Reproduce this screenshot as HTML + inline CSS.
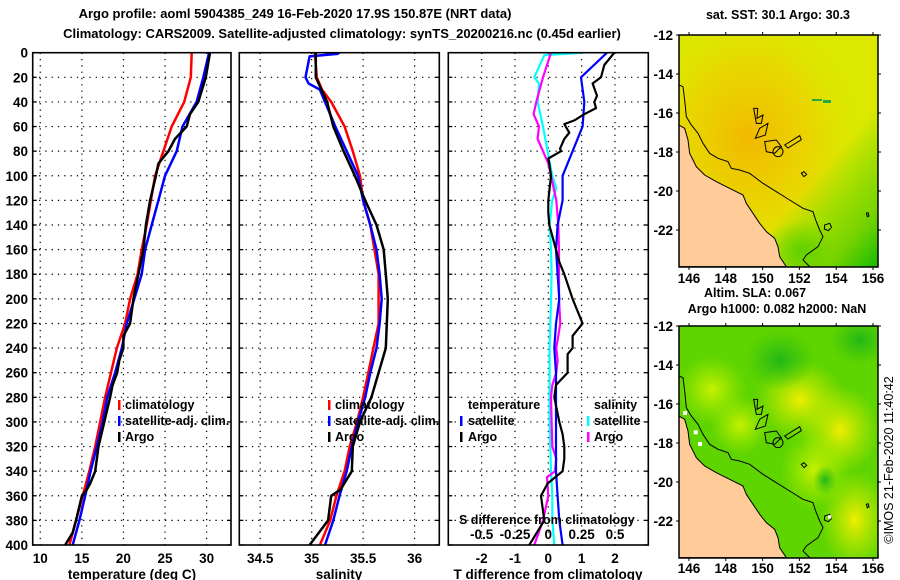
<!DOCTYPE html>
<html><head><meta charset="utf-8"><style>
html,body{margin:0;padding:0;background:#fff;}
svg{display:block;font-family:"Liberation Sans",sans-serif;font-weight:bold;}
</style></head><body>
<svg id="fig" width="900" height="580" viewBox="0 0 900 580">
<defs>
<radialGradient id="gOr" cx="0.35" cy="0.45" r="0.55"><stop offset="0" stop-color="#f2b800"/><stop offset="0.6" stop-color="#f0cc00" stop-opacity="0.6"/><stop offset="1" stop-color="#e0e000" stop-opacity="0"/></radialGradient>
<linearGradient id="gGr" x1="0.3" y1="0.3" x2="1" y2="1"><stop offset="0.5" stop-color="#22cc00" stop-opacity="0"/><stop offset="0.8" stop-color="#55cc00" stop-opacity="0.7"/><stop offset="1" stop-color="#11bb00" stop-opacity="1"/></linearGradient>
<radialGradient id="gY1" cx="0.5" cy="0.5" r="0.5"><stop offset="0" stop-color="#eeee00"/><stop offset="1" stop-color="#ccee00" stop-opacity="0"/></radialGradient>
<radialGradient id="gY2" cx="0.5" cy="0.5" r="0.5"><stop offset="0" stop-color="#c8f000"/><stop offset="1" stop-color="#aaee00" stop-opacity="0"/></radialGradient>
<radialGradient id="gD" cx="0.5" cy="0.5" r="0.5"><stop offset="0" stop-color="#22b818"/><stop offset="1" stop-color="#33c010" stop-opacity="0"/></radialGradient>
<radialGradient id="gG2" cx="0.5" cy="0.5" r="0.5"><stop offset="0" stop-color="#44cc00" stop-opacity="0.7"/><stop offset="1" stop-color="#44cc00" stop-opacity="0"/></radialGradient>
<clipPath id="cm1"><rect x="679" y="35" width="199" height="232"/></clipPath>
<clipPath id="cm2"><rect x="679" y="326" width="199" height="232"/></clipPath>
<clipPath id="cp1"><rect x="32.7" y="52.7" width="198.3" height="492.3"/></clipPath>
<clipPath id="cp2"><rect x="239.3" y="52.7" width="200" height="492.3"/></clipPath>
<clipPath id="cp3"><rect x="448.3" y="52.7" width="200" height="492.3"/></clipPath>
</defs>
<text x="295" y="18" font-size="13" text-anchor="middle">Argo profile: aoml 5904385_249 16-Feb-2020 17.9S 150.87E (NRT data)</text>
<text x="342" y="38" font-size="13" text-anchor="middle">Climatology: CARS2009. Satellite-adjusted climatology: synTS_20200216.nc (0.45d earlier)</text>
<g id="grid"></g>
<g id="lines"></g>
<g id="frames"></g>
<g id="labels" font-size="13.5"></g>

<g font-size="12.5">
<rect x="118" y="400" width="2.5" height="10" fill="#f00"/><text x="125" y="409">climatology</text>
<rect x="118" y="416" width="2.5" height="10" fill="#00f"/><text x="125" y="425">satellite-adj. clim.</text>
<rect x="118" y="432" width="2.5" height="10" fill="#000"/><text x="125" y="441">Argo</text>
</g>
<g font-size="12.5">
<rect x="328" y="400" width="2.5" height="10" fill="#f00"/><text x="335" y="409">climatology</text>
<rect x="328" y="416" width="2.5" height="10" fill="#00f"/><text x="335" y="425">satellite-adj. clim.</text>
<rect x="328" y="432" width="2.5" height="10" fill="#000"/><text x="335" y="441">Argo</text>
</g>
<g font-size="12.5">
<text x="468" y="409">temperature</text>
<rect x="460" y="416" width="2.5" height="10" fill="#00f"/><text x="468" y="425">satellite</text>
<rect x="460" y="432" width="2.5" height="10" fill="#000"/><text x="468" y="441">Argo</text>
<text x="594" y="409">salinity</text>
<rect x="587" y="416" width="2.5" height="10" fill="#0ff"/><text x="594" y="425">satellite</text>
<rect x="587" y="432" width="2.5" height="10" fill="#f0f"/><text x="594" y="441">Argo</text>
</g>
<text x="459" y="524" font-size="12.5">S difference from climatology</text>

<g clip-path="url(#cm1)">
<rect x="679" y="35" width="199" height="232" fill="#dce800"/>
<rect x="679" y="35" width="199" height="232" fill="url(#gOr)"/>
<rect x="679" y="35" width="199" height="232" fill="url(#gGr)"/>
<ellipse cx="800" cy="250" rx="35" ry="30" fill="url(#gG2)"/>
<rect x="823" y="100" width="8" height="3" fill="#22aa44"/><rect x="812" y="99" width="10" height="2" fill="#22aa44"/>
<g transform="translate(679,35) scale(0.33333) translate(-88,-105)">
<polygon points="88,375 105,385 115,420 120,460 130,480 140,500 150,510 165,525 200,545 230,560 260,575 280,585 290,610 310,640 330,670 350,695 375,715 385,740 390,770 410,800 88,800" fill="#ffcc99" stroke="#000" stroke-width="3"/>
<polyline points="88,255 100,260 105,300 110,350 125,375 145,400 160,430 180,460 205,475 235,485 245,505 270,510 300,520 340,550 380,575 420,600 460,625 490,635 498,660 510,690 520,710 505,740 470,765 460,780 480,800" fill="none" stroke="#000" stroke-width="3"/>
<path d="M312,325 l12,0 l-2,30 l18,-10 l-5,25 l-15,0 z M330,385 l25,-15 l-8,35 l-30,10 z M345,425 l35,-5 l15,20 l-20,20 l-25,-5 z M405,435 l45,-28 l5,12 l-40,25 z M455,520 l8,-5 l8,8 l-8,7 z M525,675 l15,-5 l6,12 l-10,10 l-12,-5 z M650,640 l5,-2 l3,10 l-5,2 z" fill="none" stroke="#000" stroke-width="3"/>
<circle cx="385" cy="455" r="15" fill="none" stroke="#000" stroke-width="3"/>
</g>
</g>
<rect x="679" y="35" width="199" height="232" fill="none" stroke="#000" stroke-width="1.5"/>

<g clip-path="url(#cm2)">
<rect x="679" y="326" width="199" height="232" fill="#5ed400"/>
<ellipse cx="800" cy="400" rx="45" ry="40" fill="url(#gY1)"/>
<ellipse cx="840" cy="430" rx="40" ry="45" fill="url(#gY1)"/>
<ellipse cx="855" cy="520" rx="35" ry="50" fill="url(#gY1)"/>
<ellipse cx="815" cy="470" rx="35" ry="40" fill="url(#gY2)"/>
<ellipse cx="712" cy="390" rx="35" ry="35" fill="url(#gY2)"/>
<ellipse cx="740" cy="425" rx="30" ry="30" fill="url(#gY2)"/>
<ellipse cx="780" cy="360" rx="35" ry="30" fill="url(#gD)"/>
<ellipse cx="860" cy="340" rx="30" ry="25" fill="url(#gD)"/>
<ellipse cx="825" cy="480" rx="12" ry="15" fill="url(#gD)"/>
<g transform="translate(679,326) scale(0.33333) translate(-88,-105)">
<polygon points="88,375 105,385 115,420 120,460 130,480 140,500 150,510 165,525 200,545 230,560 260,575 280,585 290,610 310,640 330,670 350,695 375,715 385,740 390,770 410,800 88,800" fill="#ffcc99" stroke="#000" stroke-width="3"/>
<polyline points="88,255 100,260 105,300 110,350 125,375 145,400 160,430 180,460 205,475 235,485 245,505 270,510 300,520 340,550 380,575 420,600 460,625 490,635 498,660 510,690 520,710 505,740 470,765 460,780 480,800" fill="none" stroke="#000" stroke-width="3"/>
<path d="M312,325 l12,0 l-2,30 l18,-10 l-5,25 l-15,0 z M330,385 l25,-15 l-8,35 l-30,10 z M345,425 l35,-5 l15,20 l-20,20 l-25,-5 z M405,435 l45,-28 l5,12 l-40,25 z M455,520 l8,-5 l8,8 l-8,7 z M525,675 l15,-5 l6,12 l-10,10 l-12,-5 z M650,640 l5,-2 l3,10 l-5,2 z" fill="none" stroke="#000" stroke-width="3"/>
<circle cx="385" cy="455" r="15" fill="none" stroke="#000" stroke-width="3"/>
<rect x="100" y="360" width="12" height="12" fill="#fff"/><rect x="132" y="418" width="12" height="12" fill="#fff"/><rect x="145" y="453" width="12" height="12" fill="#fff"/><rect x="535" y="673" width="10" height="10" fill="#fff"/>
</g>
</g>
<rect x="679" y="326" width="199" height="232" fill="none" stroke="#000" stroke-width="1.5"/>
<g id="maplabels" font-size="13.5"></g>
<text x="778" y="19" font-size="12.5" text-anchor="middle">sat. SST: 30.1 Argo: 30.3</text>
<text x="755" y="297" font-size="12.5" text-anchor="middle">Altim. SLA: 0.067</text>
<text x="777" y="313" font-size="12.5" text-anchor="middle">Argo h1000: 0.082 h2000: NaN</text>
<text transform="translate(893,460) rotate(-90)" font-size="12.5" font-weight="normal" text-anchor="middle">©IMOS 21-Feb-2020 11:40:42</text>
</svg>
<script>
const depthTicks=[0,20,40,60,80,100,120,140,160,180,200,220,240,260,280,300,320,340,360,380,400];
const tTicks=[10,15,20,25,30];
const sTicks=[34.5,35,35.5,36];
const dTTicks=[-2,-1,0,1,2];
const dSTicks=[-0.5,-0.25,0,0.25,0.5];
const dSTickLabels=["-0.5","-0.25","0","0.25","0.5"];
const tClimDepth=[0,20,40,60,80,100,120,140,160,180,200,220,240,260,280,300,320,340,360,380,400];
const tClim=[28.2,28.1,27.3,25.8,24.8,23.8,23.3,22.8,22.2,21.7,20.8,20.2,19.2,18.5,17.8,17.2,16.6,15.9,15.1,14.3,13.5];
const tSat=[30.3,29.6,28.8,27.1,26.4,25.0,24.2,23.4,22.6,22.2,21.3,20.4,19.8,19.0,18.05,17.5,16.8,16.05,15.4,14.7,13.9];
const tArgoDepth=[0,20,40,50,60,70,80,90,100,120,140,160,180,200,220,230,240,250,260,270,280,300,320,340,350,355,360,380,390,400];
const tArgo=[30.4,29.9,29.0,28.0,27.6,26.2,25.4,24.2,23.9,23.2,22.7,22.4,21.8,21.2,20.8,20.0,20.0,19.5,19.25,18.7,18.4,17.7,17.0,16.6,16.0,15.6,15.0,14.3,13.9,13.0];
const sSatDepth=[0,1,3,20,25,30,40,60,80,100,120,140,160,180,200,220,240,260,280,300,320,340,360,380,400];
const sSat=[35.27,35.25,34.98,34.94,34.97,35.08,35.13,35.23,35.34,35.45,35.5,35.57,35.63,35.66,35.68,35.66,35.63,35.57,35.52,35.45,35.39,35.34,35.27,35.21,35.13];
const sClimDepth=[0,20,30,40,60,80,100,120,140,160,180,200,220,240,260,280,300,320,340,360,380,400];
const sClim=[35.03,35.05,35.1,35.19,35.32,35.40,35.47,35.5,35.57,35.61,35.65,35.65,35.65,35.6,35.55,35.5,35.44,35.37,35.32,35.24,35.18,35.08];
const sArgoDepth=[0,20,40,60,80,100,120,140,160,180,200,220,240,260,280,300,320,340,355,360,380,400];
const sArgo=[35.04,35.04,35.15,35.21,35.31,35.42,35.52,35.63,35.7,35.72,35.74,35.73,35.72,35.65,35.58,35.47,35.40,35.39,35.28,35.19,35.16,34.98];
const dTSatDepth=[0,20,40,60,80,100,120,140,160,180,200,220,240,260,280,300,320,340,360,380,400];
const dTSat=[1.76,0.98,1.08,1.03,0.73,0.43,0.43,0.28,0.23,0.28,0.33,0.23,0.18,0.23,0.23,0.23,0.23,0.23,0.28,0.33,0.43];
const dTArgoDepth=[0,10,20,25,35,40,45,50,55,58,65,70,78,80,86,90,100,120,130,140,160,170,180,200,220,230,240,245,260,270,280,300,310,320,330,340,350,360,380,400];
const dTArgo=[1.98,1.68,1.58,1.33,1.46,1.38,1.43,1.08,0.78,0.48,0.63,0.48,0.35,0.38,0.0,0.03,0.08,0.0,0.0,0.03,0.23,0.33,0.48,0.73,1.03,0.73,0.73,0.58,0.58,0.23,0.18,0.33,0.43,0.48,0.48,0.43,-0.02,-0.22,-0.12,-0.57];
const dSSatDepth=[0,2,20,25,40,60,80,100,110,120,140,160,180,200,220,240,260,280,300,320,340,360,380,400];
const dSSat=[0.26,-0.03,-0.105,-0.07,-0.08,-0.04,-0.005,0.03,0.06,0.03,0.01,0.02,0.025,0.02,0.015,0.01,0.01,0.01,0.01,0.015,0.02,0.03,0.03,0.045];
const dSArgoDepth=[0,20,40,50,60,70,80,90,100,120,140,160,180,200,220,240,250,260,270,280,300,320,330,340,345,360,380,400];
const dSArgo=[0.02,-0.04,-0.09,-0.11,-0.07,-0.08,-0.04,0.0,0.02,0.06,0.075,0.08,0.08,0.08,0.09,0.06,0.07,0.06,0.03,0.02,0.025,0.03,0.06,0.05,-0.01,0.0,-0.04,-0.105];
const mapLonTicks=[146,148,150,152,154,156];
const mapLatTicks=[-12,-14,-16,-18,-20,-22];

const NS='http://www.w3.org/2000/svg';
const Y0=52.7,Y1=545;
const yD=d=>Y0+(Y1-Y0)*d/400;
const panels=[
 {x0:32.7,x1:231,lo:9.09,hi:32.93,clip:'cp1'},
 {x0:239.3,x1:439.3,lo:34.297,hi:36.24,clip:'cp2'},
 {x0:448.3,x1:648.3,lo:-3,hi:3,clip:'cp3'}
];
const xP=(p,v)=>p.x0+(p.x1-p.x0)*(v-p.lo)/(p.hi-p.lo);
const xS=v=>xP(panels[2],v*4);
function mk(tag,parent,attrs){const e=document.createElementNS(NS,tag);for(const k in attrs)e.setAttribute(k,attrs[k]);parent.appendChild(e);return e;}
const grid=document.getElementById('grid'),lines=document.getElementById('lines'),frames=document.getElementById('frames'),labels=document.getElementById('labels');
const xt=[tTicks,sTicks,dTTicks];
panels.forEach((p,i)=>{
  depthTicks.forEach(d=>{if(d>0&&d<400){const l=mk('line',grid,{x1:p.x0,x2:p.x1,y1:yD(d),y2:yD(d),stroke:'#000','stroke-width':1.2,'stroke-dasharray':'1.3 5'});
    
    }
    mk('line',frames,{x1:p.x0,x2:p.x0+4,y1:yD(d),y2:yD(d),stroke:'#000','stroke-width':1.3});
    mk('line',frames,{x1:p.x1-4,x2:p.x1,y1:yD(d),y2:yD(d),stroke:'#000','stroke-width':1.3});});
  xt[i].forEach(v=>{const x=xP(p,v);const l=mk('line',grid,{x1:x,x2:x,y1:Y0,y2:Y1,stroke:'#000','stroke-width':1.2,'stroke-dasharray':'1.3 5'});
    
    
    const t=mk('text',labels,{x:x,y:563,'text-anchor':'middle'});t.textContent=String(v);
    
    });
  const f=mk('rect',frames,{x:p.x0,y:Y0,width:p.x1-p.x0,height:Y1-Y0,fill:'none',stroke:'#000','stroke-width':1.6});
  
  
});
depthTicks.forEach(d=>{const t=mk('text',labels,{x:28,y:yD(d)+5,'text-anchor':'end'});t.textContent=String(d);
  
  });
dSTicks.forEach((v,i)=>{const t=mk('text',labels,{x:xS(v),y:539,'text-anchor':'middle'});t.textContent=dSTickLabels[i];
  
  });
[['temperature (deg C)',132],['salinity',339],['T difference from climatology',548]].forEach(a=>{const t=mk('text',labels,{x:a[1],y:579,'text-anchor':'middle'});t.textContent=a[0];
  
  });
function series(pi,dep,val,col,w,name,fx){const p=panels[pi];
  const pts=dep.map((d,k)=>(fx?fx(val[k]):xP(p,val[k])).toFixed(1)+','+yD(d).toFixed(1)).join(' ');
  const l=mk('polyline',lines,{points:pts,fill:'none',stroke:col,'stroke-width':w,'clip-path':'url(#'+p.clip+')','stroke-linejoin':'round'});
  
  }
series(0,tClimDepth,tClim,'#f00',2.5,'temp-climatology-line');
series(0,tClimDepth,tSat,'#00f',2.5,'temp-satellite-line');
series(0,tArgoDepth,tArgo,'#000',2.5,'temp-argo-line');
series(1,sClimDepth,sClim,'#f00',2.5,'sal-climatology-line');
series(1,sSatDepth,sSat,'#00f',2.5,'sal-satellite-line');
series(1,sArgoDepth,sArgo,'#000',2.5,'sal-argo-line');
series(2,dSSatDepth,dSSat,'#0ff',2.2,'sdiff-satellite-line',xS);
series(2,dSArgoDepth,dSArgo,'#f0f',2.2,'sdiff-argo-line',xS);
series(2,dTSatDepth,dTSat,'#00f',2.2,'tdiff-satellite-line');
series(2,dTArgoDepth,dTArgo,'#000',2.2,'tdiff-argo-line');
const ml=document.getElementById('maplabels');
const lonX=v=>689+(v-146)*18.4;
[[35,283],[326,573]].forEach(([top,ly])=>{
  mapLonTicks.forEach(v=>{const t=mk('text',ml,{x:lonX(v),y:ly,'text-anchor':'middle'});t.textContent=String(v);
    
    
    mk('line',ml,{x1:lonX(v),x2:lonX(v),y1:top-3,y2:top,stroke:'#000'});
    mk('line',ml,{x1:lonX(v),x2:lonX(v),y1:top+232,y2:top+235,stroke:'#000'});});
  mapLatTicks.forEach(v=>{const y=top+(-12-v)*19.5;const t=mk('text',ml,{x:673,y:y+5,'text-anchor':'end'});t.textContent=String(v);
    
    
    mk('line',ml,{x1:676,x2:679,y1:y,y2:y,stroke:'#000'});
    mk('line',ml,{x1:878,x2:881,y1:y,y2:y,stroke:'#000'});});
});
</script>
</body></html>
